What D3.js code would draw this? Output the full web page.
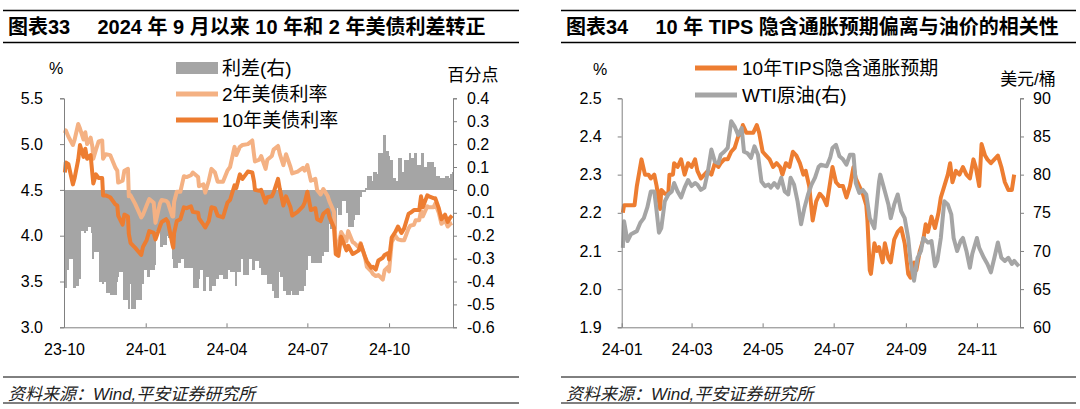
<!DOCTYPE html>
<html><head><meta charset="utf-8">
<script src="https://cdn.jsdelivr.net/npm/d3@7"></script>
<style>
body{margin:0;background:#fff}
svg{display:block}
</style>
</head><body>
<svg id="c" width="1080" height="409"></svg>
<script>
// ---------------- LEFT CHART DATA ----------------
const leftDates = ["2023-10-02","2023-10-03","2023-10-06","2023-10-11","2023-10-13","2023-10-17","2023-10-19","2023-10-23","2023-10-25","2023-10-27","2023-10-31",
"2023-11-02","2023-11-03","2023-11-06","2023-11-09","2023-11-13","2023-11-14","2023-11-17","2023-11-22","2023-11-28","2023-11-30",
"2023-12-01","2023-12-06","2023-12-08","2023-12-12","2023-12-13","2023-12-15","2023-12-20","2023-12-27","2023-12-29",
"2024-01-02","2024-01-05","2024-01-10","2024-01-12","2024-01-17","2024-01-19","2024-01-24","2024-01-26","2024-01-31",
"2024-02-01","2024-02-02","2024-02-05","2024-02-09","2024-02-13","2024-02-16","2024-02-21","2024-02-23","2024-02-29",
"2024-03-01","2024-03-06","2024-03-08","2024-03-12","2024-03-15","2024-03-19","2024-03-22","2024-03-28",
"2024-04-02","2024-04-05","2024-04-10","2024-04-12","2024-04-16","2024-04-19","2024-04-25","2024-04-30",
"2024-05-02","2024-05-03","2024-05-08","2024-05-10","2024-05-15","2024-05-17","2024-05-22","2024-05-24","2024-05-29","2024-05-31",
"2024-06-04","2024-06-07","2024-06-12","2024-06-14","2024-06-20","2024-06-26","2024-06-28",
"2024-07-01","2024-07-05","2024-07-10","2024-07-12","2024-07-16","2024-07-19","2024-07-24","2024-07-26","2024-07-31",
"2024-08-02","2024-08-05","2024-08-08","2024-08-14","2024-08-16","2024-08-21","2024-08-23","2024-08-28","2024-08-30",
"2024-09-04","2024-09-06","2024-09-11","2024-09-13","2024-09-16","2024-09-19","2024-09-24","2024-09-26","2024-09-30",
"2024-10-01","2024-10-04","2024-10-08","2024-10-11","2024-10-15","2024-10-18","2024-10-23","2024-10-25","2024-10-29","2024-10-31",
"2024-11-04","2024-11-06","2024-11-08","2024-11-13","2024-11-15","2024-11-20","2024-11-22","2024-11-26","2024-11-29",
"2024-12-03","2024-12-06","2024-12-09","2024-12-11"];
const y10 = [4.69,4.80,4.78,4.56,4.63,4.83,4.99,4.86,4.95,4.84,4.88,
4.67,4.57,4.67,4.63,4.63,4.44,4.44,4.42,4.34,4.33,
4.22,4.12,4.23,4.21,4.02,3.92,3.87,3.79,3.88,
3.95,4.05,4.03,3.96,4.10,4.15,4.18,4.15,3.91,
3.87,4.03,4.16,4.18,4.31,4.30,4.32,4.26,4.25,
4.19,4.12,4.09,4.16,4.31,4.30,4.22,4.20,
4.36,4.39,4.55,4.52,4.67,4.62,4.70,4.69,
4.59,4.50,4.49,4.50,4.36,4.42,4.43,4.47,4.62,4.51,
4.33,4.43,4.31,4.22,4.26,4.32,4.36,
4.48,4.28,4.30,4.18,4.16,4.24,4.28,4.20,4.09,
3.80,3.78,3.99,3.84,3.89,3.80,3.81,3.84,3.91,
3.77,3.72,3.65,3.66,3.63,3.73,3.76,3.79,3.81,
3.74,3.98,4.04,4.10,4.03,4.08,4.24,4.25,4.28,4.28,
4.28,4.43,4.31,4.44,4.43,4.41,4.41,4.30,4.18,
4.23,4.15,4.20,4.22];
const y2 = [5.12,5.15,5.08,4.99,5.05,5.22,5.17,5.05,5.13,5.00,5.07,
4.97,4.84,4.94,5.03,5.04,4.84,4.89,4.88,4.74,4.71,
4.58,4.60,4.71,4.73,4.43,4.44,4.35,4.20,4.23,
4.33,4.40,4.36,4.14,4.35,4.39,4.38,4.36,4.21,
4.21,4.37,4.48,4.48,4.65,4.64,4.66,4.69,4.64,
4.54,4.56,4.47,4.60,4.73,4.69,4.59,4.59,
4.71,4.75,4.97,4.88,4.97,4.99,5.00,5.04,
4.88,4.81,4.83,4.87,4.73,4.83,4.87,4.94,4.98,4.89,
4.77,4.89,4.75,4.68,4.70,4.74,4.71,
4.77,4.60,4.62,4.50,4.45,4.51,4.43,4.37,4.26,
3.88,3.89,4.04,3.94,4.05,3.93,3.92,3.87,3.92,
3.76,3.66,3.61,3.58,3.56,3.57,3.52,3.62,3.66,
3.61,3.93,4.00,3.96,3.95,3.95,4.08,4.11,4.12,4.17,
4.17,4.27,4.21,4.32,4.31,4.31,4.35,4.25,4.13,
4.17,4.10,4.13,4.14];
const spread = [-0.43,-0.35,-0.30,-0.43,-0.42,-0.39,-0.18,-0.19,-0.18,-0.16,-0.19,
-0.30,-0.27,-0.27,-0.40,-0.41,-0.40,-0.45,-0.46,-0.40,-0.38,
-0.36,-0.48,-0.48,-0.52,-0.41,-0.52,-0.48,-0.41,-0.35,
-0.38,-0.35,-0.33,-0.18,-0.25,-0.24,-0.20,-0.21,-0.30,
-0.34,-0.34,-0.32,-0.30,-0.34,-0.34,-0.34,-0.43,-0.39,
-0.35,-0.44,-0.38,-0.44,-0.42,-0.39,-0.37,-0.39,
-0.35,-0.36,-0.42,-0.36,-0.30,-0.37,-0.30,-0.35,
-0.29,-0.31,-0.34,-0.37,-0.37,-0.41,-0.44,-0.47,-0.36,-0.38,
-0.44,-0.46,-0.44,-0.46,-0.44,-0.42,-0.35,
-0.29,-0.32,-0.32,-0.32,-0.29,-0.27,-0.15,-0.17,-0.17,
-0.08,-0.11,-0.05,-0.10,-0.16,-0.13,-0.11,-0.03,-0.01,
0.01,0.06,0.04,0.08,0.07,0.16,0.24,0.17,0.15,
0.13,0.05,0.04,0.14,0.08,0.13,0.16,0.14,0.16,0.11,
0.11,0.16,0.10,0.12,0.12,0.10,0.06,0.05,0.05,
0.06,0.05,0.07,0.08];
const leftXTicks = ["2023-10-01","2024-01-01","2024-04-01","2024-07-01","2024-10-01"];
const leftXLabels = ["23-10","24-01","24-04","24-07","24-10"];
const leftYTicks = [3.0,3.5,4.0,4.5,5.0,5.5];
const leftY2Ticks = [-0.6,-0.5,-0.4,-0.3,-0.2,-0.1,0.0,0.1,0.2,0.3,0.4];
const leftLegend = ["利差(右)","2年美债利率","10年美债利率"];

// ---------------- RIGHT CHART DATA (day offset from 2024-01-01) ----------------
const tipsDays = [1,2,5,11,13,17,20,23,25,28,30,33,34,37,40,41,44,45,48,51,54,57,60,63,65,68,71,74,77,80,83,85,88,91,94,97,100,103,104,107,110,113,116,118,121,124,127,130,133,136,138,141,144,147,150,153,156,158,161,164,167,170,173,176,179,181,184,187,190,193,196,199,201,204,207,210,211,213,214,217,219,221,224,226,229,231,234,237,240,243,246,248,251,253,256,259,261,263,266,269,272,274,277,280,282,284,287,290,293,296,299,302,304,307,309,312,314,317,320,323,326,329,332,335,337];
const tipsVals = [2.20,2.22,2.22,2.22,2.27,2.34,2.30,2.30,2.29,2.30,2.27,2.21,2.26,2.25,2.25,2.30,2.30,2.33,2.32,2.34,2.30,2.33,2.32,2.34,2.31,2.29,2.30,2.31,2.30,2.33,2.32,2.33,2.34,2.34,2.36,2.37,2.40,2.41,2.43,2.41,2.41,2.41,2.43,2.41,2.36,2.35,2.34,2.32,2.33,2.32,2.30,2.33,2.32,2.36,2.35,2.33,2.30,2.31,2.27,2.18,2.23,2.25,2.24,2.22,2.28,2.32,2.28,2.27,2.27,2.24,2.27,2.32,2.29,2.27,2.25,2.22,2.18,2.05,2.04,2.12,2.10,2.11,2.07,2.12,2.08,2.07,2.13,2.15,2.16,2.12,2.04,2.03,2.07,2.05,2.10,2.13,2.17,2.15,2.19,2.16,2.20,2.24,2.27,2.30,2.33,2.28,2.31,2.30,2.32,2.30,2.29,2.34,2.32,2.27,2.38,2.35,2.34,2.33,2.34,2.35,2.32,2.28,2.26,2.26,2.30];
const wtiDays = [1,2,5,8,13,16,19,22,25,28,30,32,34,37,40,43,45,48,51,54,57,60,63,65,68,71,74,77,80,83,85,88,91,94,97,100,103,105,108,111,114,117,120,123,126,128,131,134,137,140,143,145,148,151,154,157,160,163,166,169,171,176,179,181,184,187,190,193,196,199,201,204,207,210,213,217,219,221,222,226,229,231,234,237,240,243,246,248,251,254,257,259,263,266,269,271,274,277,280,283,285,288,291,293,296,299,301,305,307,311,314,317,320,323,326,329,332,335,337,341];
const wtiVals = [70.4,73.9,71.3,72.2,72.6,73.7,74.3,75.7,77.8,77.8,75.2,72.4,73.0,76.5,77.4,77.8,78.9,77.8,77.0,78.3,79.3,78.5,78.9,78.7,78.0,78.3,80.4,83.3,81.7,81.5,82.6,83.0,83.5,87.0,86.3,85.2,86.1,83.0,82.8,82.2,83.7,82.6,79.1,78.5,78.7,78.3,78.9,78.3,79.6,77.8,77.4,79.6,78.7,76.5,73.5,75.7,77.4,78.7,79.6,81.0,81.3,81.1,82.2,83.5,83.9,82.4,82.0,81.3,82.6,82.6,78.9,77.6,78.0,77.4,74.3,73.0,76.1,79.1,80.0,77.8,76.1,74.3,76.1,77.4,75.2,74.3,71.7,68.7,66.1,69.1,70.0,71.7,71.1,71.3,68.0,68.7,71.7,76.5,76.1,74.8,71.7,70.0,71.3,71.7,70.0,67.8,69.6,71.7,70.4,69.1,68.3,67.2,69.1,71.1,69.1,68.7,69.1,68.3,68.7,68.0];
const rightXTicks = ["2024-01-01","2024-03-01","2024-05-01","2024-07-01","2024-09-01","2024-11-01"];
const rightXLabels = ["24-01","24-03","24-05","24-07","24-09","24-11"];
const rightYTicks = [1.9,2.0,2.1,2.2,2.3,2.4,2.5];
const rightY2Ticks = [60,65,70,75,80,85,90];
const rightLegend = ["10年TIPS隐含通胀预期","WTI原油(右)"];

// ---------------- DRAW ----------------
const FONT = '"Liberation Sans", Arial, "Noto Sans CJK SC", sans-serif';
const AX = "#808080";
const ORANGE = "#ED7D31", LIGHT = "#F4B183", GRAY = "#A5A5A5";
const svg = d3.select("#c").attr("font-family", FONT);
const parse = d3.timeParse("%Y-%m-%d");

function hr(x1, x2, y, w) {
  svg.append("line").attr("x1", x1).attr("x2", x2).attr("y1", y).attr("y2", y)
    .attr("stroke", "#000").attr("stroke-width", w);
}
function txt(x, y, s, size, opts = {}) {
  const t = svg.append("text").attr("x", x).attr("y", y).attr("font-size", size)
    .attr("fill", opts.fill || "#000").text(s);
  if (opts.bold) t.attr("font-weight", "bold");
  if (opts.anchor) t.attr("text-anchor", opts.anchor);
  if (opts.italic) t.attr("font-style", "italic");
  return t;
}
function styleAxis(g) {
  g.attr("font-family", null).attr("font-size", null);
  g.selectAll("path,line").attr("stroke", AX).attr("stroke-width", 1);
  g.selectAll("text").attr("font-size", 16).attr("fill", "#000");
}

// header / footer rules
[[3, 519], [561, 1076]].forEach(([a, b]) => {
  hr(a, b, 10.5, 1.3); hr(a, b, 42.5, 1.3); hr(a, b, 377, 1); hr(a, b, 403, 1);
});
txt(8, 34, "图表33", 20, { bold: true });
txt(97.5, 34, "2024 年 9 月以来 10 年和 2 年美债利差转正", 20, { bold: true });
txt(566, 34, "图表34", 20, { bold: true });
txt(655.5, 34, "10 年 TIPS 隐含通胀预期偏离与油价的相关性", 20, { bold: true });
txt(8, 399.5, "资料来源：Wind,平安证券研究所", 17, { italic: true, fill: "#222" });
txt(566, 399.5, "资料来源：Wind,平安证券研究所", 17, { italic: true, fill: "#222" });

const T = 98.3, B = 327.3;
const LW = 4;

// ===== Left chart =====
{
  const L = 64, R = 453;
  const ld = leftDates.map(parse);
  const x = d3.scaleTime().domain([parse("2023-10-01"), parse("2024-12-12")]).range([L, R]);
  const y = d3.scaleLinear().domain([3.0, 5.5]).range([B, T]);
  const y2s = d3.scaleLinear().domain([-0.6, 0.4]).range([B, T]);

  // spread bars
  svg.append("g").attr("shape-rendering", "crispEdges").selectAll("rect").data(spread).join("rect")
    .attr("x", (d, i) => x(ld[i]))
    .attr("width", (d, i) => Math.max(1, (i < ld.length - 1 ? x(ld[i + 1]) : R) - x(ld[i]) + 1))
    .attr("y", d => y2s(Math.max(0, d)))
    .attr("height", d => Math.max(1, Math.abs(y2s(d) - y2s(0))))
    .attr("fill", GRAY);

  const line = arr => d3.line().x((d, i) => x(ld[i])).y(d => y(d))(arr);
  svg.append("path").attr("d", line(y2)).attr("fill", "none").attr("stroke", LIGHT)
    .attr("stroke-width", LW).attr("stroke-linejoin", "round");
  svg.append("path").attr("d", line(y10)).attr("fill", "none").attr("stroke", ORANGE)
    .attr("stroke-width", LW).attr("stroke-linejoin", "round");

  const fmt = d => d.toFixed(1);
  svg.append("g").attr("transform", `translate(${L},0)`)
    .call(d3.axisLeft(y).tickValues(leftYTicks).tickFormat(fmt).tickSize(4).tickPadding(17)).call(styleAxis);
  svg.append("g").attr("transform", `translate(${R},0)`)
    .call(d3.axisRight(y2s).tickValues(leftY2Ticks).tickFormat(fmt).tickSize(4).tickPadding(10)).call(styleAxis);
  svg.append("g").attr("transform", `translate(0,${B})`)
    .call(d3.axisBottom(x).tickValues(leftXTicks.map(parse)).tickFormat((d, i) => leftXLabels[i])
      .tickSizeInner(-4).tickSizeOuter(0).tickPadding(16)).call(styleAxis);

  txt(56, 74, "%", 16, { anchor: "middle" });
  txt(473, 80.5, "百分点", 17, { anchor: "middle" });

  // legend
  const ly = [68, 94, 120];
  svg.append("rect").attr("x", 176).attr("y", ly[0] - 6).attr("width", 42).attr("height", 12).attr("fill", GRAY);
  [[LIGHT, 1], [ORANGE, 2]].forEach(([c, k]) => {
    svg.append("line").attr("x1", 176).attr("x2", 218).attr("y1", ly[k]).attr("y2", ly[k])
      .attr("stroke", c).attr("stroke-width", 5);
  });
  leftLegend.forEach((s, k) => txt(222, ly[k] + 7, s, 19));
}

// ===== Right chart =====
{
  const L = 621.7, R = 1020;
  const base = parse("2024-01-01");
  const x = d3.scaleTime().domain([base, parse("2024-12-08")]).range([L, R]);
  const y = d3.scaleLinear().domain([1.9, 2.5]).range([B, T]);
  const y2s = d3.scaleLinear().domain([60, 90]).range([B, T]);
  const dayX = d => x(d3.timeDay.offset(base, d));

  const tl = d3.line().x((d, i) => dayX(tipsDays[i])).y(d => y(d));
  const wl = d3.line().x((d, i) => dayX(wtiDays[i])).y(d => y2s(d));
  svg.append("path").attr("d", tl(tipsVals)).attr("fill", "none").attr("stroke", ORANGE)
    .attr("stroke-width", LW).attr("stroke-linejoin", "round");
  svg.append("path").attr("d", wl(wtiVals)).attr("fill", "none").attr("stroke", GRAY)
    .attr("stroke-width", LW).attr("stroke-linejoin", "round");

  svg.append("g").attr("transform", `translate(${L},0)`)
    .call(d3.axisLeft(y).tickValues(rightYTicks).tickFormat(d => d.toFixed(1)).tickSize(4).tickPadding(16)).call(styleAxis);
  svg.append("g").attr("transform", `translate(${R},0)`)
    .call(d3.axisRight(y2s).tickValues(rightY2Ticks).tickFormat(d => String(d)).tickSize(4).tickPadding(9)).call(styleAxis);
  svg.append("g").attr("transform", `translate(0,${B})`)
    .call(d3.axisBottom(x).tickValues(rightXTicks.map(parse)).tickFormat((d, i) => rightXLabels[i])
      .tickSizeInner(-4).tickSizeOuter(0).tickPadding(16)).call(styleAxis);

  txt(600, 75, "%", 16, { anchor: "middle" });
  txt(1028, 84.5, "美元/桶", 17, { anchor: "middle" });

  const ly = [68, 95];
  [ORANGE, GRAY].forEach((c, k) => {
    svg.append("line").attr("x1", 695).attr("x2", 737).attr("y1", ly[k]).attr("y2", ly[k])
      .attr("stroke", c).attr("stroke-width", 5);
  });
  rightLegend.forEach((s, k) => txt(742, ly[k] + 7, s, 19));
}
</script>
</body></html>
